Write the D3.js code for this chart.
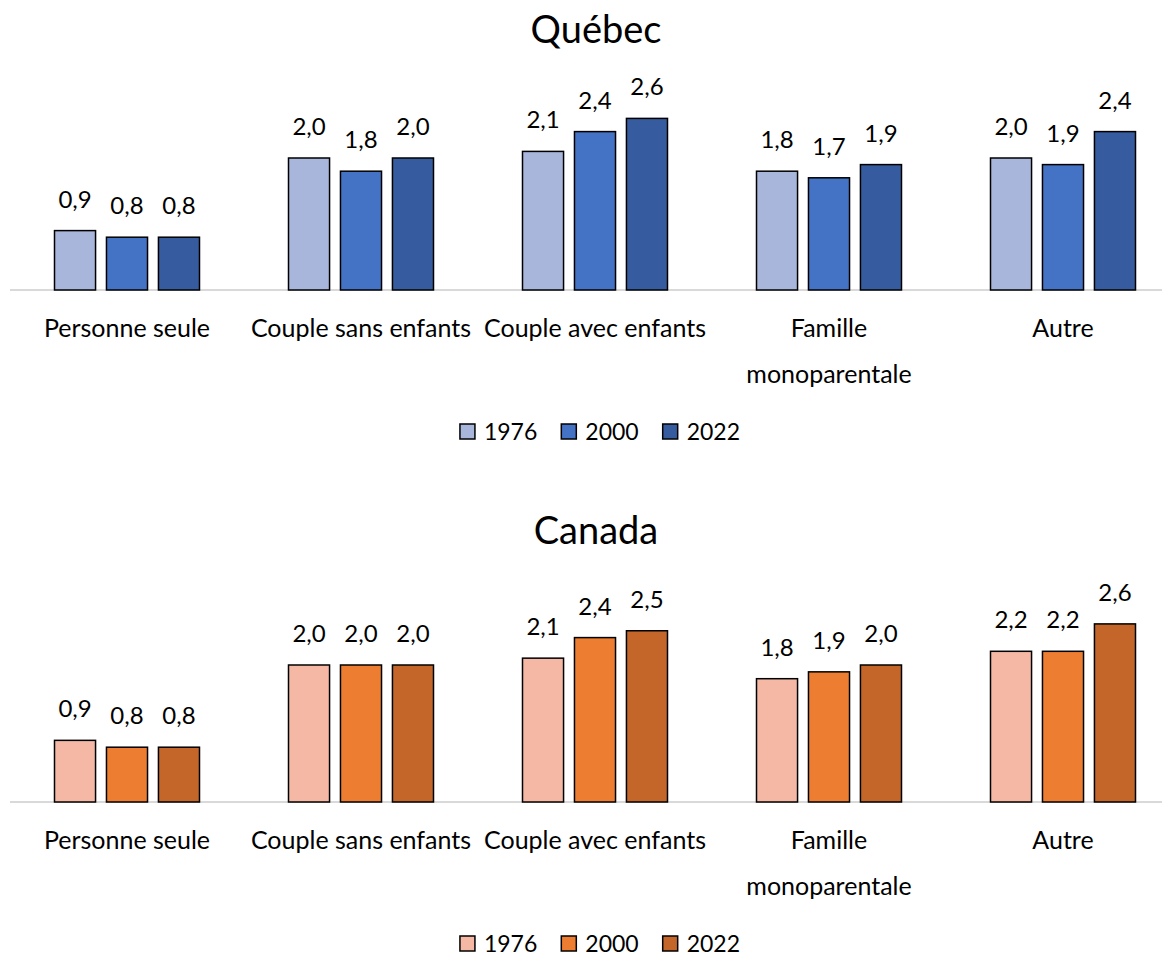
<!DOCTYPE html>
<html>
<head>
<meta charset="utf-8">
<script src="https://cdn.jsdelivr.net/npm/d3@7"></script>
<style>
  body { margin: 0; background: #fff; }
  svg { display: block; font-family: "Lato", "Liberation Sans", sans-serif; }
</style>
</head>
<body>
<svg id="chart" width="1162" height="958"></svg>
<script>
var categories = ["Personne seule", "Couple sans enfants", "Couple avec enfants", "Famille monoparentale", "Autre"];
var years = ["1976", "2000", "2022"];

// valeurs par année (même ordre que categories)
var quebec1976 = [0.9, 2.0, 2.1, 1.8, 2.0];
var quebec2000 = [0.8, 1.8, 2.4, 1.7, 1.9];
var quebec2022 = [0.8, 2.0, 2.6, 1.9, 2.4];

var canada1976 = [0.9, 2.0, 2.1, 1.8, 2.2];
var canada2000 = [0.8, 2.0, 2.4, 1.9, 2.2];
var canada2022 = [0.8, 2.0, 2.5, 2.0, 2.6];

var quebecColors = ["#A9B6DB", "#4472C4", "#365C9F"];
var canadaColors = ["#F4B8A5", "#ED7D31", "#C4652A"];

var svg = d3.select("#chart");
var fmt = function (v) { return d3.format(".1f")(v).replace(".", ","); };

var x = d3.scaleBand().domain(categories).range([10, 1180]).paddingInner(0).paddingOuter(0);
var xInner = d3.scaleBand().domain(years).range([0, 145]).paddingInner(0.21);

function wrap(label, maxW, fontSize) {
    var words = label.split(" ");
    var probe = svg.append("text").style("font-size", fontSize + "px");
    probe.text(label);
    var w = probe.node().getComputedTextLength();
    probe.remove();
    if (w <= maxW) return [label];
    return [words[0], words.slice(1).join(" ")];
}

function panel(title, titleY, series, colors, base, unitPx) {
    var g = svg.append("g");
    var y = d3.scaleLinear().domain([0, 3]).range([base, base - 3 * unitPx]);

    g.append("text")
        .attr("x", 596).attr("y", titleY)
        .attr("text-anchor", "middle")
        .style("font-size", "38px")
        .style("fill", "#000")
        .text(title);

    // axe horizontal
    g.append("line")
        .attr("x1", 10).attr("x2", 1162)
        .attr("y1", y(0)).attr("y2", y(0))
        .style("stroke", "#d9d9d9").style("stroke-width", 2);

    var rows = categories.map(function (c, i) {
        return years.map(function (yr, j) { return {cat: c, year: yr, j: j, value: series[j][i]}; });
    });
    var groups = g.selectAll(".grp").data(rows).enter().append("g")
        .attr("class", "grp")
        .attr("transform", function (d) { return "translate(" + (x(d[0].cat) + x.bandwidth() / 2 - 72.5) + ",0)"; });

    groups.selectAll("rect").data(function (d) { return d; }).enter().append("rect")
        .attr("x", function (d) { return xInner(d.year); })
        .attr("width", xInner.bandwidth())
        .attr("y", function (d) { return y(d.value); })
        .attr("height", function (d) { return y(0) - y(d.value); })
        .style("fill", function (d) { return colors[d.j]; })
        .style("stroke", "#000").style("stroke-width", 1.5);

    groups.selectAll(".val").data(function (d) { return d; }).enter().append("text")
        .attr("class", "val")
        .attr("x", function (d) { return xInner(d.year) + xInner.bandwidth() / 2; })
        .attr("y", function (d) { return y(d.value) - 23; })
        .attr("text-anchor", "middle")
        .style("font-size", "24px")
        .text(function (d) { return fmt(d.value); });

    // étiquettes des catégories
    categories.forEach(function (c) {
        var lines = wrap(c, x.bandwidth(), 25);
        var t = g.append("text")
            .attr("text-anchor", "middle")
            .style("font-size", "25px");
        lines.forEach(function (ln, k) {
            t.append("tspan")
                .attr("x", x(c) + x.bandwidth() / 2)
                .attr("y", base + 47 + k * 46)
                .text(ln);
        });
    });

    // légende
    var leg = g.append("g");
    var xpos = 0;
    years.forEach(function (yr, j) {
        var item = leg.append("g").attr("transform", "translate(" + xpos + ",0)");
        item.append("rect")
            .attr("x", 0).attr("y", -8).attr("width", 15).attr("height", 15)
            .style("fill", colors[j]).style("stroke", "#000").style("stroke-width", 1.5);
        var t = item.append("text")
            .attr("x", 24).attr("y", 8)
            .style("font-size", "23px")
            .text(yr);
        xpos += 24 + t.node().getComputedTextLength() + 24;
    });
    var legW = xpos - 24;
    leg.attr("transform", "translate(" + (600 - legW / 2) + "," + (base + 142) + ")");
}

panel("Québec", 43, [quebec1976, quebec2000, quebec2022], quebecColors, 290, 66);
panel("Canada", 544, [canada1976, canada2000, canada2022], canadaColors, 802, 68.5);
</script>
</body>
</html>
